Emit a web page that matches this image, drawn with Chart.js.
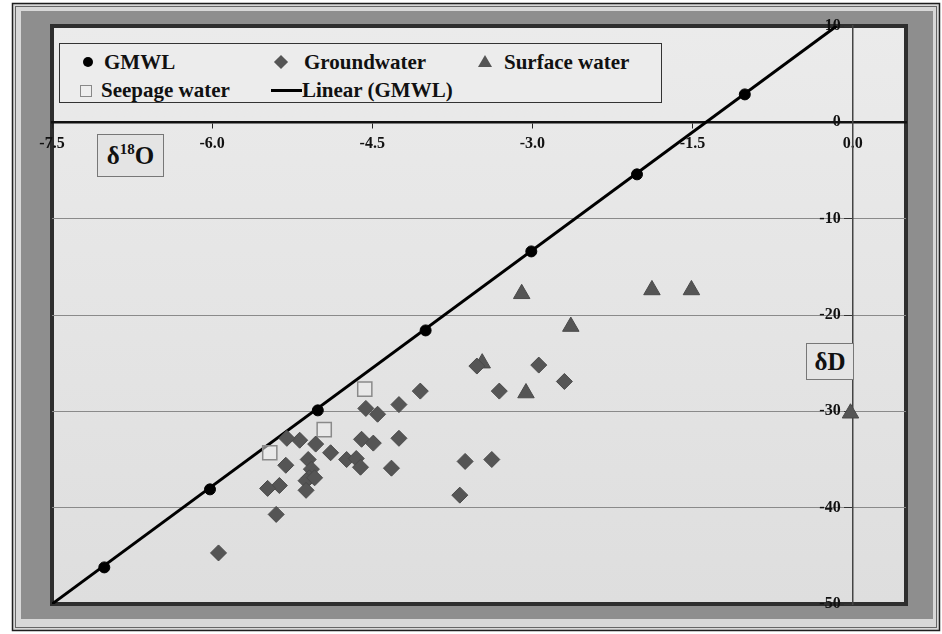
<!DOCTYPE html>
<html>
<head>
<meta charset="utf-8">
<script src="https://cdn.jsdelivr.net/npm/chart.js@4.4.0/dist/chart.umd.min.js"></script>
<style>
  html, body { margin: 0; padding: 0; background: #fff; }
  #wrap { position: relative; width: 942px; height: 634px; overflow: hidden; }
  #chart { position: absolute; left: 0; top: 0; }
  .legend { position: absolute; left: 59px; top: 43px; width: 601px; height: 58px;
    border: 1.5px solid #333; background: #ececec;
    font: bold 21px "Liberation Serif", "Times New Roman", serif; color: #111; }
  .txt { position: absolute; line-height: 24px; white-space: nowrap; }
  .sym { position: absolute; }
  .axbox { position: absolute; border: 1px solid #777; background: #e4e4e4;
    font: bold 25px "Liberation Serif", "Times New Roman", serif; color: #111;
    text-align: center; }
  .axbox sup { font-size: 15px; vertical-align: 10px; line-height: 0; }
</style>
</head>
<body>
<div id="wrap">
  <canvas id="chart" width="942" height="634"></canvas>
  <div class="legend">
    <div class="sym" style="left:23px;top:13px;width:10px;height:10px;border-radius:50%;background:#000"></div>
    <div class="txt" style="left:44px;top:6px">GMWL</div>
    <div class="sym" style="left:216px;top:13px;width:10px;height:10px;background:#555;transform:rotate(45deg)"></div>
    <div class="txt" style="left:244px;top:6px">Groundwater</div>
    <div class="sym" style="left:418px;top:11px;width:0;height:0;border-left:7px solid transparent;border-right:7px solid transparent;border-bottom:12px solid #555"></div>
    <div class="txt" style="left:444px;top:6px">Surface water</div>
    <div class="sym" style="left:20px;top:41px;width:10px;height:10px;border:1px solid #888;background:#eee"></div>
    <div class="txt" style="left:41px;top:34px">Seepage water</div>
    <div class="sym" style="left:211px;top:45px;width:31px;height:3px;background:#000"></div>
    <div class="txt" style="left:242px;top:34px">Linear (GMWL)</div>
  </div>
  <div class="axbox" style="left:97px;top:134px;width:65px;height:41px;line-height:41px">δ<sup>18</sup>O</div>
  <div class="axbox" style="left:806px;top:343px;width:46px;height:35px;line-height:35px">δD</div>
</div>
<script>
// GMWL sample points (δ18O, δD)
const gmwlX = [-7.01, -6.02, -5.01, -4.0, -3.01, -2.02, -1.01];
const gmwlY = [-46.2, -38.1, -29.9, -21.6, -13.4, -5.4, 2.9];

const groundX = [-3.52, -2.94, -3.31, -4.05, -4.25, -4.56, -4.45, -4.25, -4.60, -4.49, -5.03,
  -5.18, -5.30, -4.89, -4.74, -4.65, -4.61, -4.32, -5.10, -5.31, -5.07, -5.09, -5.12, -5.04,
  -5.37, -5.48, -5.12, -5.40, -5.94, -3.63, -3.38, -3.68, -2.70];
const groundY = [-25.3, -25.2, -27.9, -27.9, -29.3, -29.7, -30.3, -32.8, -32.9, -33.3, -33.4,
  -33.0, -32.8, -34.3, -35.0, -34.9, -35.8, -35.9, -35.0, -35.6, -36.0, -36.9, -37.2, -36.9,
  -37.7, -38.0, -38.2, -40.7, -44.7, -35.2, -35.0, -38.7, -26.9];

const surfaceX = [-3.10, -1.88, -1.51, -2.64, -3.47, -3.06, -0.02];
const surfaceY = [-17.8, -17.4, -17.4, -21.2, -25.0, -28.1, -30.2];

const seepageX = [-4.57, -4.95, -5.46];
const seepageY = [-27.7, -31.9, -34.3];

// trendline end points
const linearX = [-7.5, -0.15];
const linearY = [-50, 10];

const xTickValues = [-7.5, -6.0, -4.5, -3.0, -1.5, 0.0];
const yTickValues = [10, 0, -10, -20, -30, -40, -50];

function pts(xs, ys) {
  return xs.map((x, i) => ({ x: x, y: ys[i] }));
}

const framePlugin = {
  id: 'frame',
  beforeDraw(chart) {
    const ctx = chart.ctx;
    const a = chart.chartArea;
    ctx.save();
    ctx.fillStyle = '#fff';
    ctx.fillRect(0, 0, 942, 634);
    ctx.fillStyle = '#d8d8d8';
    ctx.fillRect(13, 4, 926, 626);
    ctx.strokeStyle = '#1e1e1e';
    ctx.lineWidth = 1.5;
    ctx.strokeRect(12.5, 3.5, 927, 627);
    ctx.strokeStyle = '#666';
    ctx.lineWidth = 1;
    ctx.strokeRect(15.5, 6.5, 921, 621);
    ctx.fillStyle = '#8e8e8e';
    ctx.fillRect(21, 11, 912, 608);
    const g = ctx.createLinearGradient(0, a.top, 0, a.bottom);
    g.addColorStop(0, '#ebebeb');
    g.addColorStop(1, '#dedede');
    ctx.fillStyle = g;
    ctx.fillRect(a.left, a.top, a.right - a.left, a.bottom - a.top);
    ctx.strokeStyle = '#2e2e2e';
    ctx.lineWidth = 4;
    ctx.strokeRect(a.left, a.top, a.right - a.left, a.bottom - a.top);
    ctx.restore();
  }
};

const tickFont = { family: "'Liberation Serif', 'Times New Roman', serif", weight: 'bold', size: 16 };

new Chart(document.getElementById('chart').getContext('2d'), {
  type: 'scatter',
  plugins: [framePlugin],
  data: {
    datasets: [{
      label: 'GMWL',
      data: pts(gmwlX, gmwlY),
      pointStyle: 'circle',
      pointRadius: 5.5,
      backgroundColor: '#000',
      borderColor: '#000'
    }, {
      label: 'Groundwater',
      data: pts(groundX, groundY),
      pointStyle: 'rectRot',
      pointRadius: 8,
      backgroundColor: '#555',
      borderColor: '#4a4a4a',
      borderWidth: 1
    }, {
      label: 'Surface water',
      data: pts(surfaceX, surfaceY),
      pointStyle: 'triangle',
      pointRadius: 9.5,
      backgroundColor: '#555',
      borderColor: '#4a4a4a',
      borderWidth: 1
    }, {
      label: 'Seepage water',
      data: pts(seepageX, seepageY),
      pointStyle: 'rect',
      pointRadius: 10,
      backgroundColor: 'rgba(240,240,240,0.5)',
      borderColor: '#8a8a8a',
      borderWidth: 1.5
    }, {
      label: 'Linear (GMWL)',
      type: 'line',
      data: pts(linearX, linearY),
      showLine: true,
      pointRadius: 0,
      borderColor: '#000',
      borderWidth: 3
    }]
  },
  options: {
    responsive: false,
    animation: false,
    layout: { padding: { left: 52, top: 26, right: 36, bottom: 30 } },
    scales: {
      x: {
        type: 'linear',
        position: { y: 0 },
        min: -7.5,
        max: 0.5,
        afterBuildTicks: (scale) => { scale.ticks = xTickValues.map(v => ({ value: v })); },
        ticks: {
          font: tickFont,
          color: '#111',
          padding: 7,
          maxRotation: 0,
          callback: (v) => Number(v).toFixed(1)
        },
        grid: { drawOnChartArea: false, drawTicks: true, tickLength: 5, tickColor: '#222' },
        border: { display: true, color: '#111', width: 2.5 }
      },
      y: {
        type: 'linear',
        position: { x: 0 },
        min: -50,
        max: 10,
        afterBuildTicks: (scale) => { scale.ticks = yTickValues.map(v => ({ value: v })); },
        ticks: {
          font: tickFont,
          color: '#111',
          padding: 3,
          // keep the labels clear of the axis line
          callback: (v) => String(v) + '\u2002 '
        },
        grid: {
          color: (c) => (c.tick && [10, 0, -50].includes(c.tick.value)) ? 'rgba(0,0,0,0)' : '#8a8a8a',
          lineWidth: 1,
          tickLength: 8,
          tickColor: '#333'
        },
        border: { display: true, color: '#444', width: 1.5 }
      }
    },
    plugins: {
      legend: { display: false },
      tooltip: { enabled: false },
      title: { display: false }
    }
  }
});
</script>
</body>
</html>
